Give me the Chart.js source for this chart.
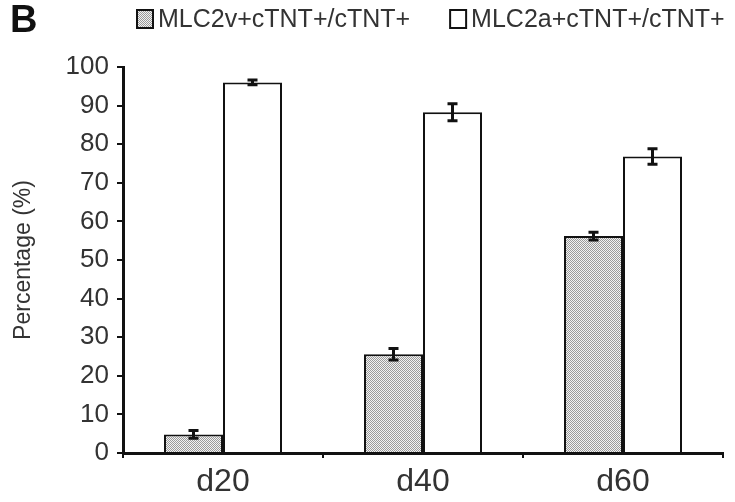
<!DOCTYPE html>
<html>
<head>
<meta charset="utf-8">
<script src="https://cdn.jsdelivr.net/npm/chart.js@4.4.1/dist/chart.umd.min.js"></script>
<style>
  html, body { margin: 0; padding: 0; background: #fff; }
  #wrap { width: 735px; height: 502px; }
</style>
</head>
<body>
<div id="wrap"><canvas id="myChart" width="735" height="502"></canvas></div>
<script>
var days = ['d20', 'd40', 'd60'];
var ventricular = [4.8, 25.6, 56.2];
var ventricularErr = [1.0, 1.5, 1.0];
var atrial = [96, 88.3, 76.8];
var atrialErr = [0.6, 2.2, 2.0];
var yTicks = [0, 10, 20, 30, 40, 50, 60, 70, 80, 90, 100];

var FONT = "'Liberation Sans', Arial, sans-serif";

// dotted grey fill like the printed halftone
var pc = document.createElement('canvas');
pc.width = 2; pc.height = 2;
var px = pc.getContext('2d');
px.fillStyle = '#f2f2f2'; px.fillRect(0, 0, 2, 2);
px.fillStyle = '#9a9a9a'; px.fillRect(0, 0, 1, 1); px.fillRect(1, 1, 1, 1);
var greyFill = px.createPattern(pc, 'repeat');

var errorBars = {
  id: 'errorBars',
  afterDatasetsDraw: function (chart) {
    var ctx = chart.ctx;
    var y = chart.scales.y;
    var errs = [ventricularErr, atrialErr];
    ctx.save();
    ctx.strokeStyle = '#111';
    ctx.lineWidth = 3;
    chart.data.datasets.forEach(function (ds, di) {
      var meta = chart.getDatasetMeta(di);
      meta.data.forEach(function (bar, i) {
        var v = ds.data[i], e = errs[di][i];
        var top = y.getPixelForValue(v + e), bot = y.getPixelForValue(v - e);
        var x = bar.x;
        ctx.beginPath();
        ctx.moveTo(x, top); ctx.lineTo(x, bot);
        ctx.moveTo(x - 5, top); ctx.lineTo(x + 5, top);
        ctx.moveTo(x - 5, bot); ctx.lineTo(x + 5, bot);
        ctx.stroke();
      });
    });
    ctx.restore();
  }
};

var headerLegend = {
  id: 'headerLegend',
  afterDraw: function (chart) {
    var ctx = chart.ctx;
    ctx.save();
    ctx.fillStyle = '#111';
    ctx.font = 'bold 38px ' + FONT;
    ctx.textBaseline = 'middle';
    ctx.fillText('B', 10, 22);
    ctx.font = '25px ' + FONT;
    var x = 137;
    chart.data.datasets.forEach(function (ds) {
      ctx.fillStyle = ds.backgroundColor;
      ctx.fillRect(x, 10, 16, 18);
      ctx.strokeStyle = '#111';
      ctx.lineWidth = 2;
      ctx.strokeRect(x, 10, 16, 18);
      ctx.fillStyle = '#333';
      ctx.fillText(ds.label, x + 21, 20);
      x += 21 + ctx.measureText(ds.label).width + 40;
    });
    ctx.restore();
  }
};

new Chart(document.getElementById('myChart'), {
  type: 'bar',
  data: {
    labels: days,
    datasets: [{
      label: 'MLC2v+cTNT+/cTNT+',
      data: ventricular,
      backgroundColor: greyFill,
      borderColor: '#111',
      borderWidth: 2
    }, {
      label: 'MLC2a+cTNT+/cTNT+',
      data: atrial,
      backgroundColor: '#ffffff',
      borderColor: '#111',
      borderWidth: 2
    }]
  },
  options: {
    responsive: false,
    animation: false,
    layout: { padding: { top: 67, right: 12, left: 0, bottom: 0 } },
    categoryPercentage: 0.59,
    barPercentage: 1.0,
    plugins: {
      legend: { display: false },
      tooltip: { enabled: false }
    },
    scales: {
      x: {
        offset: true,
        grid: { display: true, offset: true, drawOnChartArea: false, drawTicks: true, tickLength: 5, color: '#111', lineWidth: 2 },
        border: { display: true, color: '#111', width: 3 },
        ticks: { color: '#333', font: { family: FONT, size: 32 }, padding: 5 },
        afterFit: function (s) { s.height = 49; }
      },
      y: {
        min: 0,
        max: 100,
        afterBuildTicks: function (s) { s.ticks = yTicks.map(function (v) { return { value: v }; }); },
        grid: { display: true, drawOnChartArea: false, drawTicks: true, tickLength: 6, color: '#111', lineWidth: 2 },
        border: { display: true, color: '#111', width: 3 },
        ticks: { color: '#333', font: { family: FONT, size: 26 }, padding: 8 },
        title: { display: true, text: 'Percentage (%)', color: '#333', font: { family: FONT, size: 23 }, padding: { top: 10, bottom: 4 } },
        afterFit: function (s) { s.width = 123; }
      }
    }
  },
  plugins: [errorBars, headerLegend]
});
</script>
</body>
</html>
